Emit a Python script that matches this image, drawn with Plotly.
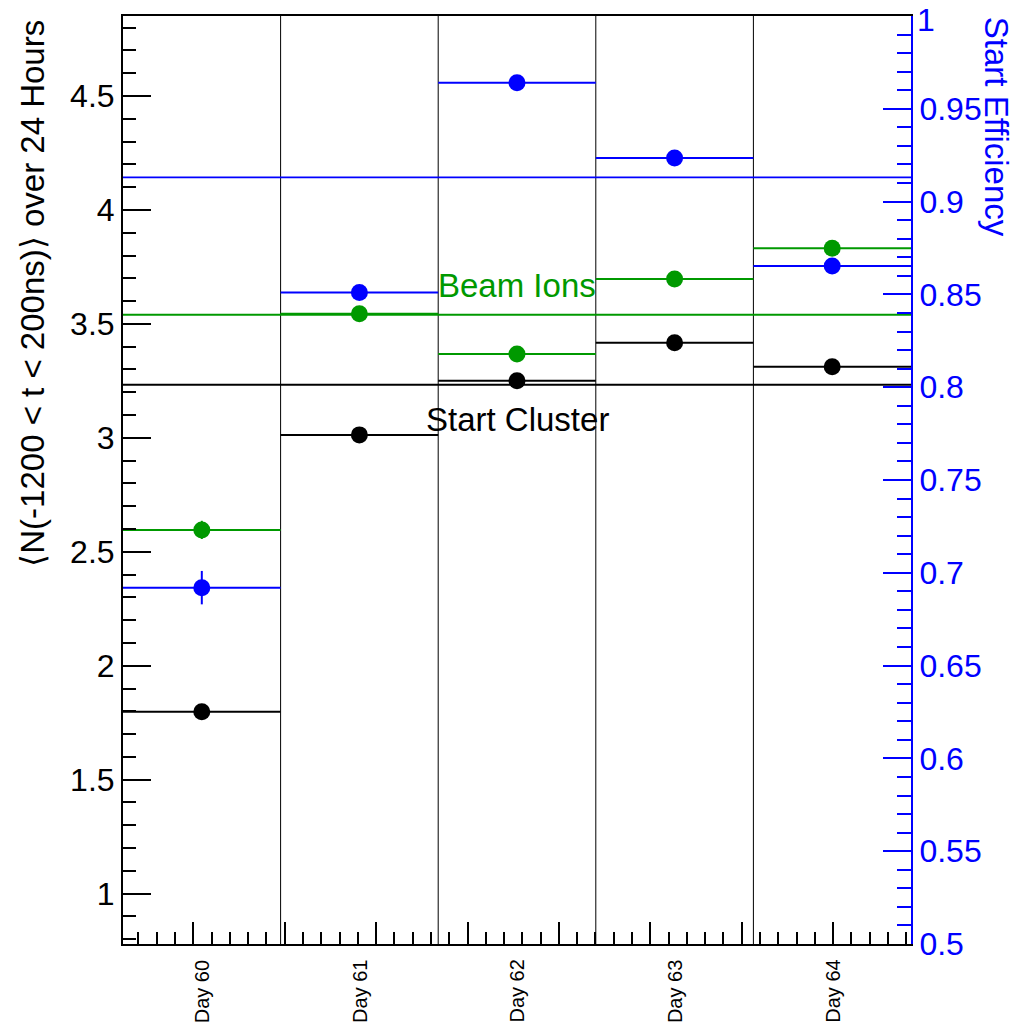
import plotly.graph_objects as go

# ---- data ----
days = ["Day 60", "Day 61", "Day 62", "Day 63", "Day 64"]
bin_centers = [0.5, 1.5, 2.5, 3.5, 4.5]
bin_halfwidth = [0.5, 0.5, 0.5, 0.5, 0.5]
bin_edges = [1, 2, 3, 4]

start_cluster = [1.798, 3.013, 3.250, 3.417, 3.312]
start_cluster_err = [0.02, 0.01, 0.01, 0.01, 0.01]
start_cluster_mean = 3.233

beam_ions = [2.596, 3.544, 3.368, 3.697, 3.832]
beam_ions_err = [0.04, 0.01, 0.01, 0.01, 0.01]
beam_ions_mean = 3.540

start_eff = [0.692, 0.851, 0.964, 0.9235, 0.8653]
start_eff_err = [0.009, 0.002, 0.002, 0.002, 0.002]
start_eff_mean = 0.9131

eff_tick_vals = [0.5, 0.55, 0.6, 0.65, 0.7, 0.75, 0.8, 0.85, 0.9, 0.95, 1.0]
eff_tick_text = ["0.5", "0.55", "0.6", "0.65", "0.7", "0.75", "0.8", "0.85", "0.9", "0.95", "1"]

x_full = [0, 5]

BLACK = "#000000"
GREEN = "#009900"
BLUE = "#0000ff"
FONT = "Liberation Sans, Arial, Helvetica, sans-serif"

fig = go.Figure()

# mean lines
fig.add_trace(go.Scatter(x=x_full, y=[start_cluster_mean] * 2, mode="lines",
                         line=dict(color=BLACK, width=1.8), showlegend=False, hoverinfo="skip"))
fig.add_trace(go.Scatter(x=x_full, y=[beam_ions_mean] * 2, mode="lines",
                         line=dict(color=GREEN, width=1.8), showlegend=False, hoverinfo="skip"))
fig.add_trace(go.Scatter(x=x_full, y=[start_eff_mean] * 2, mode="lines", yaxis="y2",
                         line=dict(color=BLUE, width=1.8), showlegend=False, hoverinfo="skip"))


def pts(y, err, color, yaxis="y"):
    return go.Scatter(
        x=bin_centers, y=y, mode="markers", yaxis=yaxis,
        marker=dict(color=color, size=17, symbol="circle", line=dict(width=0)),
        error_x=dict(type="data", array=bin_halfwidth, symmetric=True, color=color, thickness=2, width=0),
        error_y=dict(type="data", array=err, symmetric=True, color=color, thickness=2, width=0),
        showlegend=False,
    )


fig.add_trace(pts(start_cluster, start_cluster_err, BLACK))
fig.add_trace(pts(beam_ions, beam_ions_err, GREEN))
fig.add_trace(pts(start_eff, start_eff_err, BLUE, "y2"))

# bin boundaries
shapes = [dict(type="line", xref="x", yref="paper", x0=e, x1=e, y0=0, y1=1,
               line=dict(color=BLACK, width=1), layer="below") for e in bin_edges]

annotations = []
for xc, d in zip(bin_centers, days):
    annotations.append(dict(x=xc, xref="x", y=-0.0151, yref="paper", text=d, showarrow=False,
                            textangle=-90, xanchor="center", yanchor="top",
                            font=dict(family=FONT, size=20, color=BLACK)))

annotations.append(dict(x=2.5, xref="x", y=0.710, yref="paper", text="Beam Ions", showarrow=False,
                        xanchor="center", yanchor="middle", font=dict(family=FONT, size=33, color=GREEN)))
annotations.append(dict(x=2.5, xref="x", y=0.5647, yref="paper", text="Start Cluster", showarrow=False,
                        xanchor="center", yanchor="middle", font=dict(family=FONT, size=33, color=BLACK)))
annotations.append(dict(x=-0.115, xref="paper", y=0.998, yref="paper",
                        text="⟨N(-1200 &lt; t &lt; 200ns)⟩ over 24 Hours", showarrow=False,
                        textangle=-90, xanchor="center", yanchor="top",
                        font=dict(family=FONT, size=33, color=BLUE if False else BLACK)))
annotations.append(dict(x=1.1095, xref="paper", y=1.001, yref="paper",
                        text="Start Efficiency", showarrow=False,
                        textangle=90, xanchor="center", yanchor="top",
                        font=dict(family=FONT, size=33, color=BLUE)))
# top label of the efficiency axis, nudged inside the page
annotations.append(dict(x=1.0, xref="paper", y=1.0172, yref="paper",
                        text=eff_tick_text[-1], showarrow=False,
                        xanchor="left", yanchor="top", xshift=4,
                        font=dict(family=FONT, size=32, color=BLUE)))

fig.update_layout(
    width=1015, height=1024,
    margin=dict(l=123, r=104, t=16, b=80, autoexpand=False),
    paper_bgcolor="white", plot_bgcolor="white",
    font=dict(family=FONT, size=32, color=BLACK),
    xaxis=dict(range=[0, 5], showgrid=False, zeroline=False, automargin=False,
               showline=True, linecolor=BLACK, linewidth=2, mirror=True,
               tickmode="linear", tick0=0.446, dtick=0.58,
               ticks="inside", ticklen=22, tickwidth=2, tickcolor=BLACK,
               minor=dict(dtick=0.116, tick0=0.446, ticks="inside", ticklen=12,
                          tickwidth=2, tickcolor=BLACK, showgrid=False),
               showticklabels=False),
    yaxis=dict(range=[0.779, 4.851], showgrid=False, zeroline=False, automargin=False,
               showline=True, linecolor=BLACK, linewidth=2,
               tickmode="linear", tick0=0, dtick=0.5,
               ticks="inside", ticklen=28, tickwidth=2, tickcolor=BLACK,
               minor=dict(dtick=0.1, ticks="inside", ticklen=13, tickwidth=2,
                          tickcolor=BLACK, showgrid=False),
               ticklabeloverflow="allow",
               tickfont=dict(family=FONT, size=32, color=BLACK)),
    yaxis2=dict(range=[0.5, 1.000001], overlaying="y", side="right",
                showgrid=False, zeroline=False, automargin=False,
                showline=True, linecolor=BLUE, linewidth=2,
                tickmode="array", tickvals=eff_tick_vals,
                ticktext=eff_tick_text[:-1] + [""],
                ticks="inside", ticklen=28, tickwidth=2, tickcolor=BLUE,
                minor=dict(tickmode="linear", tick0=0.5, dtick=0.01, ticks="inside",
                           ticklen=14, tickwidth=2, tickcolor=BLUE, showgrid=False),
                ticklabeloverflow="allow",
                tickfont=dict(family=FONT, size=32, color=BLUE)),
    shapes=shapes,
    annotations=annotations,
    showlegend=False,
)

fig.write_html("out.html")
